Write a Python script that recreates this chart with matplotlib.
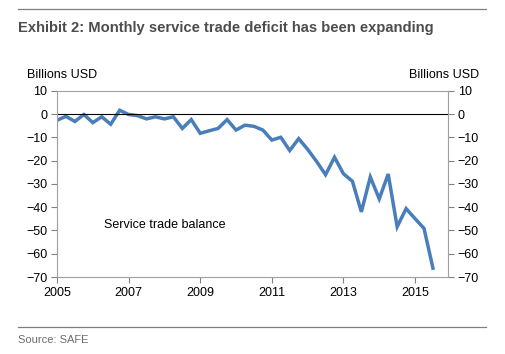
import matplotlib
matplotlib.use("Agg")
import matplotlib.pyplot as plt
from matplotlib.lines import Line2D

# quarterly service trade balance, billions USD
years = [2005 + 0.25 * i for i in range(43)]
balance = [
    -2.6, -0.9, -3.1, -0.1, -3.6, -1.1, -4.3, 1.7,
    -0.1, -0.6, -2.0, -1.1, -2.0, -1.1, -6.1, -2.3,
    -8.2, -7.1, -6.1, -2.3, -6.8, -4.7, -5.2, -6.8,
    -11.1, -9.9, -15.6, -10.5, -15.1, -20.3, -26.0, -18.5,
    -25.6, -28.8, -42.0, -27.0, -36.4, -25.7, -48.4, -40.6,
    -44.9, -49.1, -66.2,
]
xticks = [2005, 2007, 2009, 2011, 2013, 2015]
yticks = list(range(-70, 11, 10))

plt.rcParams["font.family"] = ["Liberation Sans", "DejaVu Sans"]

fig = plt.figure(figsize=(5.05, 3.54), dpi=100)
ax = fig.add_axes([57 / 505, 1 - 277 / 354, (448 - 57) / 505, (277 - 91) / 354])

ax.plot(years, balance, color="#4a7ebb", lw=2.5, solid_joinstyle="miter")
ax.axhline(0, color="black", lw=0.8)

ax.set_xlim(2005, 2015.92)
ax.set_ylim(-70, 10)
ax.set_xticks(xticks)
ax.set_yticks(yticks)
ax.tick_params(axis="both", labelsize=9, color="#808080", length=4, width=0.8)
ax.tick_params(axis="y", left=True, right=True, labelleft=True, labelright=True, pad=3)
for s in ax.spines.values():
    s.set_color("#a0a0a0")
    s.set_linewidth(0.8)

ax.text(2006.3, -47.5, "Service trade balance", fontsize=9, va="center")

fig.text(27 / 505, 1 - 75 / 354, "Billions USD", fontsize=9, va="center", ha="left")
fig.text(479 / 505, 1 - 75 / 354, "Billions USD", fontsize=9, va="center", ha="right")

# header and footer rules
fig.add_artist(Line2D([18 / 505, 486 / 505], [1 - 9 / 354] * 2, color="#7f7f7f", lw=0.9))
fig.add_artist(Line2D([18 / 505, 486 / 505], [1 - 327 / 354] * 2, color="#7f7f7f", lw=0.9))
fig.text(18 / 505, 1 - 28 / 354, "Exhibit 2: Monthly service trade deficit has been expanding",
         fontsize=10.6, fontweight="bold", color="#4d4d4f", va="center")
fig.text(18 / 505, 1 - 340 / 354, "Source: SAFE", fontsize=8, color="#6d6d6d", va="center")

fig.savefig("out.png", dpi=100)
